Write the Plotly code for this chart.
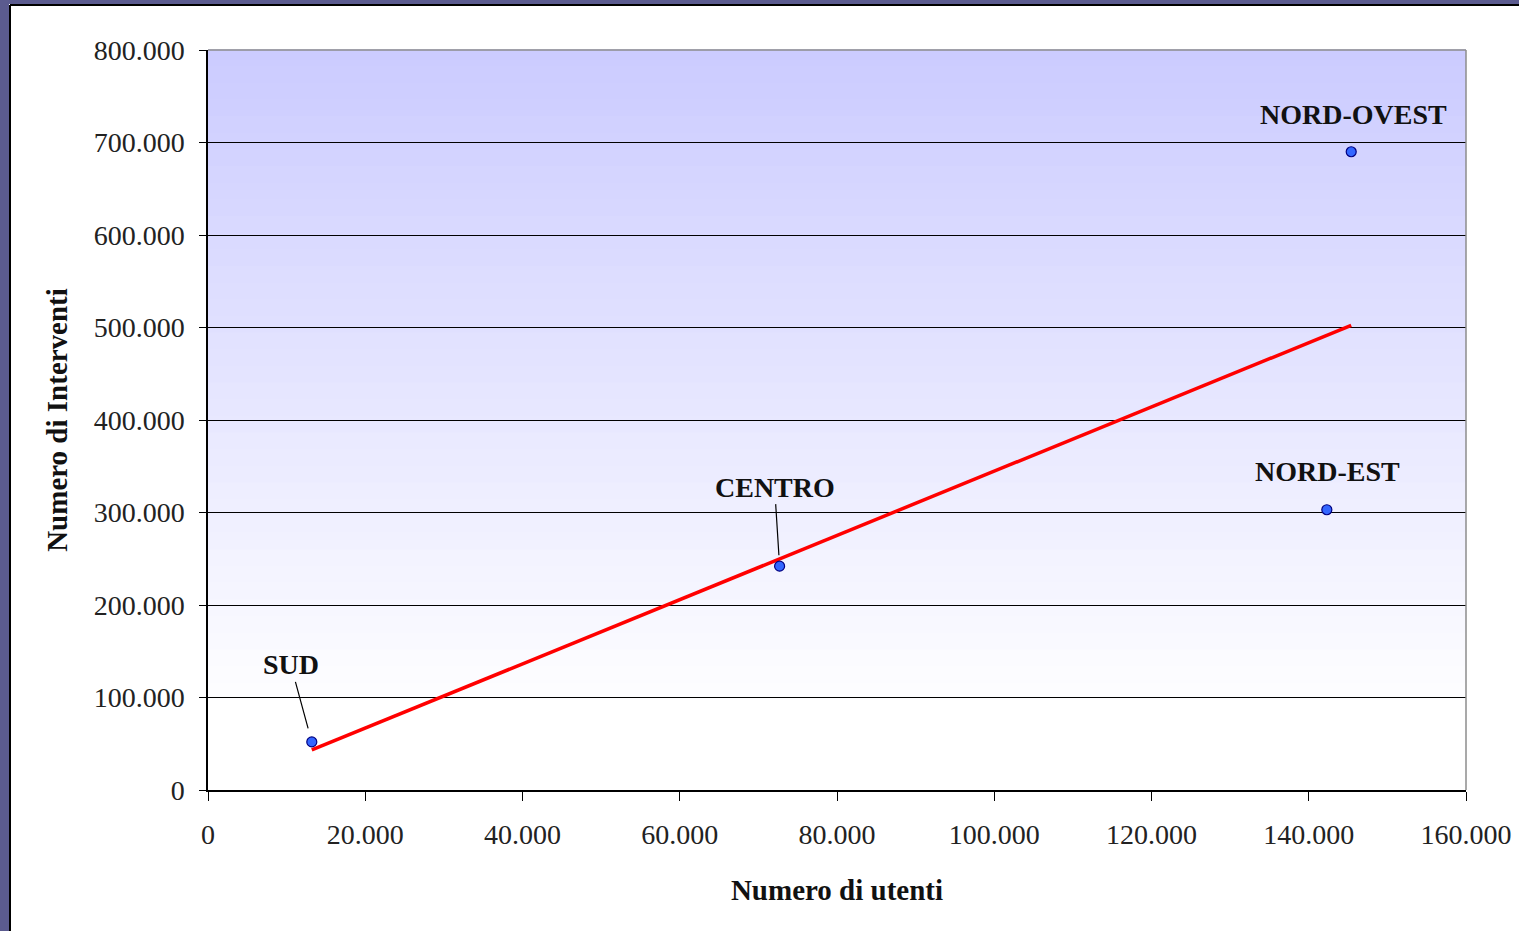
import numpy as np
import plotly.graph_objects as go

# ---- data ----
regions = ["SUD", "CENTRO", "NORD-EST", "NORD-OVEST"]
utenti = [13200, 72700, 142300, 145400]
interventi = [52000, 242000, 303000, 690000]
x_ticks = [0, 20000, 40000, 60000, 80000, 100000, 120000, 140000, 160000]
y_ticks = [0, 100000, 200000, 300000, 400000, 500000, 600000, 700000, 800000]

# linear trendline (least squares) from the data
slope, intercept = np.polyfit(utenti, interventi, 1)
tx = [min(utenti), max(utenti)]
ty = [slope * v + intercept for v in tx]

W, H = 1519, 931
ML, MR, MT, MB = 208, 53, 50, 141
PW, PH = W - ML - MR, H - MT - MB

def px(x):
    return (x - ML) / PW

def py(y):
    return (H - MB - y) / PH

FONT = "Liberation Serif"

fig = go.Figure()
fig.add_trace(go.Scatter(x=tx, y=ty, mode="lines",
                         line=dict(color="#FF0000", width=3.5), hoverinfo="skip"))
fig.add_trace(go.Scatter(x=utenti, y=interventi, mode="markers",
                         marker=dict(size=10, color="#3366FF",
                                     line=dict(color="#000080", width=1.2))))

shapes = []
# background gradient bands (lavender at top fading to white)
top_c = np.array([204, 204, 255])
n = 40
y_white = py(717)
for i in range(n):
    y1 = 1 - i * (1 - y_white) / n
    y0 = 1 - (i + 1) * (1 - y_white) / n
    t = i / (n - 1)
    c = top_c + (np.array([255, 255, 255]) - top_c) * t
    shapes.append(dict(type="rect", xref="paper", yref="paper", x0=0, x1=1,
                       y0=y0, y1=y1 + 0.001, fillcolor="rgb(%d,%d,%d)" % tuple(c.astype(int)),
                       line=dict(width=0), layer="below"))
# plot border top and right (gray)
shapes.append(dict(type="line", xref="paper", yref="paper", x0=0, x1=1, y0=1, y1=1,
                   line=dict(color="#8c8c8c", width=1.5), layer="above"))
shapes.append(dict(type="line", xref="paper", yref="paper", x0=1, x1=1, y0=0, y1=1,
                   line=dict(color="#8c8c8c", width=1.5), layer="above"))
# outer frame (purple strips with black edge)
shapes.append(dict(type="rect", xref="paper", yref="paper", x0=px(-2), x1=px(9),
                   y0=py(H + 2), y1=py(-2), fillcolor="#5B5B8F", line=dict(width=0), layer="above"))
shapes.append(dict(type="rect", xref="paper", yref="paper", x0=px(-2), x1=px(W + 2),
                   y0=py(4), y1=py(-2), fillcolor="#5B5B8F", line=dict(width=0), layer="above"))
shapes.append(dict(type="line", xref="paper", yref="paper", x0=px(10), x1=px(10),
                   y0=py(H + 2), y1=py(5), line=dict(color="#000000", width=2), layer="above"))
shapes.append(dict(type="line", xref="paper", yref="paper", x0=px(10), x1=px(W + 2),
                   y0=py(5), y1=py(5), line=dict(color="#000000", width=2), layer="above"))

lab_font = dict(family=FONT, size=28, color="#111111")
annotations = [
    dict(x=utenti[0], y=interventi[0], text="<b>SUD</b>", showarrow=True,
         arrowhead=0, arrowwidth=1.2, arrowcolor="#000000", ax=-21, ay=-77,
         standoff=14, font=lab_font),
    dict(x=utenti[1], y=interventi[1], text="<b>CENTRO</b>", showarrow=True,
         arrowhead=0, arrowwidth=1.2, arrowcolor="#000000", ax=-5, ay=-79,
         standoff=11, font=lab_font),
    dict(x=utenti[2], y=interventi[2], text="<b>NORD-EST</b>", showarrow=False,
         xshift=1, yshift=38, font=lab_font),
    dict(x=utenti[3], y=interventi[3], text="<b>NORD-OVEST</b>", showarrow=False,
         xshift=2, yshift=37, font=lab_font),
]

tick_font = dict(family=FONT, size=28, color="#222222")
title_font = dict(family=FONT, size=29, color="#111111")
fig.update_layout(
    width=W, height=H, autosize=False,
    margin=dict(l=ML, r=MR, t=MT, b=MB, pad=0, autoexpand=False),
    paper_bgcolor="#FFFFFF", plot_bgcolor="#FFFFFF",
    separators=",.",
    showlegend=False,
    shapes=shapes,
    annotations=annotations,
    xaxis=dict(range=[0, 160000], tickvals=x_ticks, tickformat=",d", automargin=False,
               showgrid=False, zeroline=False, showline=True, linecolor="#000000",
               linewidth=1.5, ticks="outside", ticklen=9, tickcolor="#000000",
               tickfont=tick_font, ticklabelstandoff=10,
               title=dict(text="<b>Numero di utenti</b>", standoff=30, font=title_font)),
    yaxis=dict(range=[0, 800000], tickvals=y_ticks, tickformat=",d", automargin=False,
               showgrid=True, gridcolor="#000000", gridwidth=1,
               zeroline=False, showline=True, linecolor="#000000",
               linewidth=1.5, ticks="outside", ticklen=7, tickcolor="#000000",
               tickfont=tick_font, ticklabelstandoff=9,
               title=dict(text="<b>Numero di Interventi</b>", standoff=18, font=title_font)),
)

fig.write_html("out.html", config={"displayModeBar": False},
               post_script="document.body.style.margin='0';document.body.style.overflow='hidden';")
